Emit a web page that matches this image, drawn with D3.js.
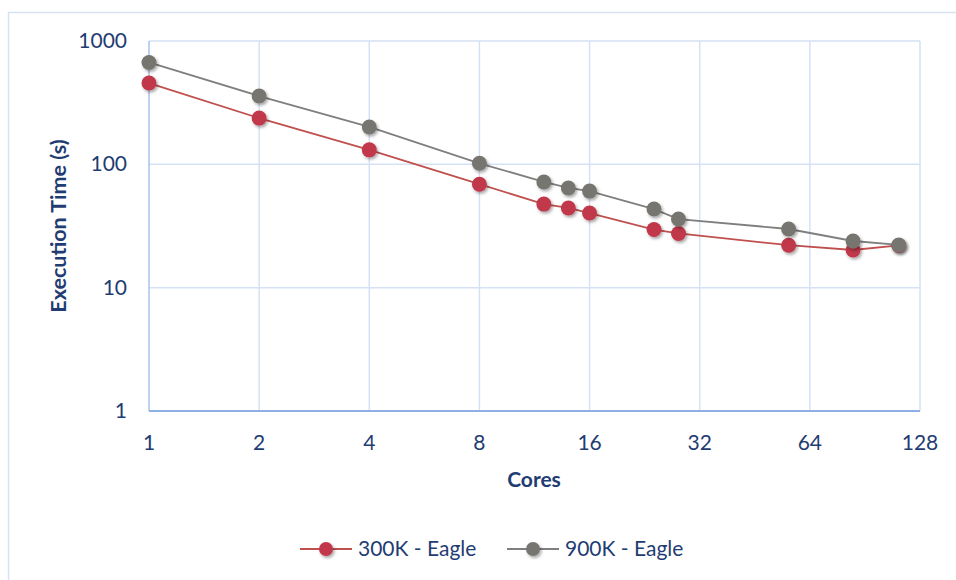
<html>
<head>
  <title>execution time</title>
</head>
<style>
  body { margin: 0; padding: 0; background: #fff; }
  text { font-family: Lato, "Open Sans", sans-serif; }
</style>
<body>
  <div id="chart"></div>
</body>
<script src="https://cdn.jsdelivr.net/npm/d3@7"></script>
<script>
  // データ
  const cores = [1, 2, 4, 8, 12, 14, 16, 24, 28, 56, 84, 112]
  const eagle300 = [456, 237, 131, 69, 47.6, 44.3, 40.3, 29.6, 27.5, 22.1, 20.2, 22]
  const eagle900 = [670, 358, 201, 102, 72, 64.3, 60.7, 43.4, 36, 29.9, 23.9, 22.2]
  const xTicks = [1, 2, 4, 8, 16, 32, 64, 128]
  const yTicks = [1, 10, 100, 1000]
  const seriesNames = ["300K - Eagle", "900K - Eagle"]

  const width = 956, height = 580
  const svg = d3.select("#chart").append("svg")
    .attr("width", width)
    .attr("height", height)

  // 影
  const defs = svg.append("defs")
  const f = defs.append("filter").attr("id", "sh").attr("x", "-50%").attr("y", "-50%").attr("width", "200%").attr("height", "200%")
  f.append("feDropShadow").attr("dx", 1.5).attr("dy", 2).attr("stdDeviation", 1.6)
    .attr("flood-color", "#000").attr("flood-opacity", 0.35)

  // 外枠
  svg.append("rect")
    .attr("x", 8.5).attr("y", 12.5)
    .attr("width", 1000).attr("height", 1000)
    .attr("fill", "none").attr("stroke", "#d6e2f3").attr("stroke-width", 1.5)

  const x = d3.scaleLog().base(2).domain([1, 128]).range([149, 920])
  const y = d3.scaleLog().domain([1, 1000]).range([411, 41])

  const grid = svg.append("g")
  grid.selectAll(".gx").data(xTicks.slice(1)).join("line")
    .attr("x1", d => x(d)).attr("x2", d => x(d))
    .attr("y1", y(1000)).attr("y2", y(1))
    .attr("stroke", "#d5e1f4").attr("stroke-width", 1.5)
  grid.selectAll(".gy").data(yTicks.slice(1)).join("line")
    .attr("x1", x(1)).attr("x2", x(128))
    .attr("y1", d => y(d)).attr("y2", d => y(d))
    .attr("stroke", "#d5e1f4").attr("stroke-width", 1.5)

  // 軸線
  svg.append("line").attr("x1", x(1)).attr("x2", x(1)).attr("y1", y(1000)).attr("y2", y(1))
    .attr("stroke", "#a9c2ea").attr("stroke-width", 1.5)
  svg.append("line").attr("x1", x(1)).attr("x2", x(128)).attr("y1", y(1)).attr("y2", y(1))
    .attr("stroke", "#8fb0e2").attr("stroke-width", 2)

  const tc = "#1f3c73"
  const fs = 21
  svg.append("g").selectAll("text").data(xTicks).join("text")
    .attr("x", d => x(d)).attr("y", 450)
    .attr("text-anchor", "middle")
    .attr("fill", tc).attr("font-size", fs)
    .text(d => d)
  svg.append("g").selectAll("text").data(yTicks).join("text")
    .attr("x", 127).attr("y", d => y(d) + 7)
    .attr("text-anchor", "end")
    .attr("fill", tc).attr("font-size", fs)
    .text(d => d)

  svg.append("text").attr("x", 534).attr("y", 487)
    .attr("text-anchor", "middle").attr("fill", tc)
    .attr("font-size", fs).attr("font-weight", "bold")
    .text("Cores")
  svg.append("text")
    .attr("transform", "translate(66,226) rotate(-90)")
    .attr("text-anchor", "middle").attr("fill", tc)
    .attr("font-size", 21.5).attr("font-weight", "bold")
    .text("Execution Time (s)")

  const series = [
    { name: seriesNames[0], vals: eagle300, line: "#c0504d", dot: "#c0384a" },
    { name: seriesNames[1], vals: eagle900, line: "#7f7f7f", dot: "#76756f" }
  ]

  const line = d3.line().x(d => x(d[0])).y(d => y(d[1]))

  series.forEach(s => {
    const pts = cores.map((c, i) => [c, s.vals[i]])
    svg.append("path").datum(pts)
      .attr("d", line).attr("fill", "none")
      .attr("stroke", s.line).attr("stroke-width", 1.8)
    svg.append("g").selectAll("circle").data(pts).join("circle")
      .attr("cx", d => x(d[0])).attr("cy", d => y(d[1]))
      .attr("r", 7.5).attr("fill", s.dot)
      .attr("filter", "url(#sh)")
  })

  // 凡例
  const leg = svg.append("g").selectAll("g").data(series).join("g")
    .attr("transform", (d, i) => `translate(${300 + i * 207},549)`)
  leg.append("line").attr("x1", 0).attr("x2", 52).attr("y1", 0).attr("y2", 0)
    .attr("stroke", d => d.line).attr("stroke-width", 1.8)
  leg.append("circle").attr("cx", 26).attr("cy", 0).attr("r", 7)
    .attr("fill", d => d.dot).attr("filter", "url(#sh)")
  leg.append("text").attr("x", 58).attr("y", 7)
    .attr("fill", tc).attr("font-size", fs)
    .text(d => d.name)
</script>
</html>
